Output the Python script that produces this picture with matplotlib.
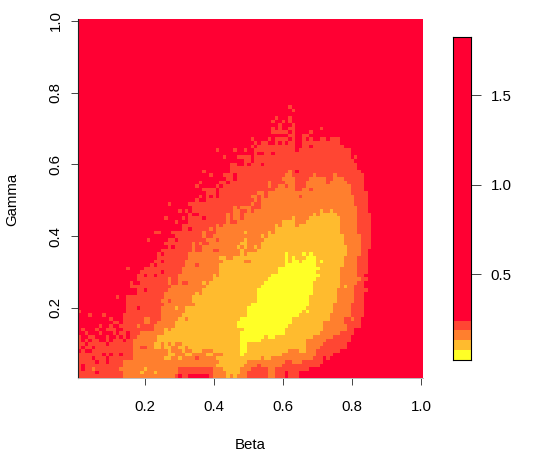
#!/usr/bin/env python3
# Beta / Gamma level map with a stepped colour key
import numpy as np
import matplotlib
matplotlib.use("Agg")
import matplotlib.pyplot as plt
from matplotlib.colors import ListedColormap, BoundaryNorm

plt.rcParams['font.family'] = ['Liberation Sans', 'DejaVu Sans']

W, H = 544, 465

# colour key
breaks = [0.025, 0.077, 0.133, 0.189, 0.239, 1.824]
colors = ['#FFFF26', '#FFBB2E', '#FF7F2E', '#FF4633', '#FF0033']
key_ticks = [0.5, 1.0, 1.5]
level_values = [0.05, 0.105, 0.16, 0.215, 1.0]

xticks = [0.2, 0.4, 0.6, 0.8, 1.0]
yticks = [0.2, 0.4, 0.6, 0.8, 1.0]

# band index per grid row, as "column:band" changes (row starts in band 4),
# rows above index 75 are all band 4
rows_top_down = {
75: "61:3 62:4",
74: "62:3 63:4",
73: "",
72: "57:3 58:4 61:3 62:4",
71: "56:3 57:4 59:3 60:4 61:3 62:4",
70: "58:3 59:4 62:3 63:4",
69: "56:3 57:4 58:3 59:4 61:3 63:4 70:3 71:4",
68: "56:3 61:4 62:3 63:4 67:3 68:4",
67: "61:3 63:4 65:3 67:4",
66: "50:3 51:4 55:3 56:4 57:3 61:4 62:3 63:4 65:3 66:4 67:3 68:4 70:3 72:4 73:3 76:4",
65: "51:3 52:4 53:3 55:4 57:3 58:4 59:3 60:4 61:3 63:4 65:3 76:4",
64: "50:3 51:4 52:3 63:4 65:3 67:4 68:3 77:4",
63: "40:3 41:4 45:3 46:4 48:3 49:4 51:3 63:4 64:3 79:4",
62: "51:3 52:4 54:3 56:4 57:3 79:4",
61: "42:3 43:4 46:3 50:4 51:3 79:4 80:3 81:4",
60: "48:3 50:4 51:3 80:4",
59: "44:3 46:4 48:3 49:4 50:3 53:4 54:3 81:4",
58: "44:3 81:4",
57: "36:3 37:4 44:3 61:2 62:3 63:4 64:3 82:4",
56: "38:3 39:4 42:3 45:4 46:3 60:2 62:3 68:2 69:3 74:2 75:3 83:4",
55: "43:3 45:4 46:3 59:2 63:3 67:2 72:3 74:2 77:3 83:4",
54: "35:3 36:4 41:3 43:4 44:3 55:2 56:3 60:2 63:3 66:2 72:3 73:2 78:3 83:4",
53: "34:3 35:4 40:3 41:4 42:3 55:2 56:3 58:2 60:3 61:2 63:3 66:2 79:3 83:4",
52: "36:3 40:4 41:3 57:2 63:3 65:2 67:3 68:2 79:3 83:4",
51: "37:3 40:4 41:3 52:2 54:3 55:2 79:3 84:4",
50: "35:3 36:4 37:3 38:4 39:3 40:4 41:3 50:2 52:3 53:2 54:3 55:2 64:3 65:2 80:3 84:4",
49: "34:3 35:4 37:3 51:2 52:3 53:2 80:3 84:4",
48: "26:3 27:4 32:3 50:2 51:3 53:2 80:3 84:4",
47: "33:3 45:2 46:3 47:2 50:3 53:2 81:3 84:4",
46: "29:3 30:4 31:3 32:4 33:3 45:2 47:3 49:2 50:3 51:2 70:1 71:2 73:1 74:2 81:3 84:4",
45: "32:3 33:4 35:3 43:2 44:3 45:2 47:3 48:2 68:1 69:2 70:1 75:2 81:3 85:4",
44: "25:3 26:4 30:3 31:4 32:3 36:4 37:3 43:2 44:3 45:2 47:3 48:2 62:1 63:2 67:1 76:2 81:3 85:4",
43: "28:3 29:4 32:3 43:2 44:3 46:2 59:1 63:2 66:1 76:2 81:3 85:4",
42: "30:3 40:2 41:3 42:2 57:1 58:2 59:1 63:2 64:1 76:2 81:3 85:4",
41: "30:3 32:4 33:3 38:2 39:3 40:2 57:1 76:2 81:3 85:4",
40: "22:3 24:4 27:3 36:2 37:3 40:2 48:1 49:2 55:1 56:2 57:1 76:2 81:3 85:4",
39: "28:3 36:2 37:3 39:2 53:1 54:2 55:1 77:2 82:3 85:4",
38: "20:3 21:4 26:3 28:4 29:3 37:2 40:3 41:2 48:1 49:2 54:1 77:2 82:3 85:4",
37: "25:3 33:2 34:3 35:2 36:3 38:2 47:1 49:2 53:1 77:2 82:3 85:4",
36: "26:3 27:4 28:3 33:2 34:3 36:2 46:1 47:2 48:1 49:2 51:1 52:2 53:1 78:2 82:3 85:4",
35: "24:3 33:2 34:3 36:2 39:3 41:2 47:1 48:2 52:1 78:2 82:3 84:4",
34: "23:3 24:4 25:3 32:2 47:1 48:2 49:1 60:0 61:1 65:0 66:1 67:0 68:1 78:2 82:3 84:4",
33: "23:3 32:2 41:1 43:2 45:1 60:0 61:1 62:0 63:1 66:0 69:1 77:2 81:3 84:4",
32: "22:3 24:4 25:3 31:2 42:1 48:2 50:1 60:0 61:1 62:0 64:1 65:0 69:1 70:0 71:1 77:2 81:3 84:4",
31: "21:3 22:4 23:3 31:2 34:3 35:2 41:1 60:0 69:1 77:2 81:3 84:4",
30: "14:3 15:4 19:3 30:2 41:1 58:0 70:1 76:2 81:3 84:4",
29: "18:3 24:4 25:3 30:2 41:1 58:0 69:1 76:2 81:3 84:4",
28: "17:3 19:4 20:3 22:4 23:3 29:2 39:1 40:2 41:1 56:0 70:1 76:2 81:3 83:4",
27: "17:3 26:2 27:3 29:2 39:1 55:0 69:1 76:2 82:3 84:4",
26: "15:3 16:4 18:3 26:2 27:3 29:2 30:3 32:2 36:1 37:2 38:1 54:0 68:1 76:2 81:3 83:4",
25: "15:3 27:2 37:1 53:0 68:1 76:2 77:1 78:2 80:3 83:4",
24: "17:3 19:4 20:3 26:2 36:1 52:0 68:1 75:2 80:3 84:4",
23: "17:3 25:2 34:1 35:2 36:1 52:0 68:1 75:2 80:3 83:4",
22: "11:3 12:4 14:3 25:2 33:1 52:0 67:1 75:2 80:3 83:4",
21: "14:3 24:2 26:3 27:2 33:1 52:0 67:1 75:2 80:3 83:4",
20: "14:3 25:2 34:1 50:0 67:1 74:2 79:3 83:4",
19: "14:3 17:4 18:3 24:2 28:1 29:2 31:1 49:0 66:1 74:2 79:3 83:4",
18: "0:3 1:4 14:3 24:2 31:1 49:0 65:1 66:0 67:1 74:2 79:3 83:4",
17: "3:3 4:4 7:3 8:4 13:3 24:2 30:1 49:0 64:1 73:2 79:3 83:4",
16: "9:3 10:4 13:3 19:2 21:3 24:2 29:1 31:2 32:1 47:0 62:1 73:2 77:3 79:2 80:3 82:4",
15: "10:3 12:4 13:3 19:2 21:3 23:2 28:1 46:0 62:1 71:2 77:3 82:4",
14: "6:3 7:4 9:3 10:4 12:3 17:2 18:3 22:2 28:1 46:0 61:1 71:2 78:3 82:4",
13: "1:3 2:4 5:3 6:4 8:3 11:4 13:3 22:2 25:1 26:2 27:1 48:0 60:1 71:2 78:3 80:4",
12: "2:3 3:4 6:3 7:4 10:3 11:4 12:3 14:4 15:3 18:2 25:1 47:0 60:1 70:2 76:3 80:4",
11: "0:3 1:4 3:3 5:4 8:3 9:4 11:3 12:4 13:3 14:4 15:3 17:2 23:1 47:0 54:1 55:0 57:1 68:2 74:3 79:4",
10: "0:3 1:4 2:3 3:4 4:3 6:4 8:3 9:4 10:3 13:4 14:3 16:2 23:1 47:0 53:1 66:2 72:3 79:4",
9: "0:3 2:4 3:3 8:4 9:3 16:2 22:1 24:2 25:1 26:2 27:1 28:2 30:1 47:0 49:1 66:2 71:3 78:4",
8: "0:3 1:4 2:3 4:4 5:3 16:2 18:3 20:2 22:1 24:2 25:1 27:2 29:1 31:2 32:1 47:0 49:1 66:2 70:3 78:4",
7: "1:3 2:4 4:3 16:2 26:1 27:2 30:1 31:2 33:1 36:2 39:1 47:0 49:1 61:2 64:1 66:2 69:3 76:4",
6: "0:3 7:4 8:3 9:4 10:3 12:4 13:3 16:2 26:1 28:2 31:1 33:2 37:1 39:2 42:1 47:0 48:1 59:2 69:3 74:4",
5: "0:3 4:4 5:3 8:4 9:3 16:2 25:1 27:2 29:1 30:2 34:3 35:2 40:1 53:2 54:1 56:2 68:3 71:4 72:3 73:4",
4: "0:3 5:4 6:3 8:4 9:3 13:2 41:1 49:2 60:3 62:2 65:3 71:4",
3: "0:3 1:4 2:3 13:2 40:1 48:2 52:3 53:2 59:3 70:4",
2: "0:3 1:4 2:3 4:2 5:3 12:2 19:1 20:2 29:3 39:2 42:1 47:2 50:3 55:2 57:3 67:4",
1: "0:3 5:4 6:3 13:2 18:1 19:2 22:1 23:2 29:3 39:2 43:1 47:2 49:3 55:2 57:3 60:4 61:3 64:4",
0: "0:3 13:2 28:3 29:4 30:3 32:4 38:3 39:2 43:1 44:2 45:1 46:2 49:3 55:2 57:3 60:4 61:3 64:4",
}


def expand_rows(rows, n=100):
    grid = np.full((n, n), 4)
    for r, txt in rows.items():
        for tok in txt.split():
            c, lev = tok.split(":")
            grid[r, int(c):] = int(lev)
    return grid


grid = expand_rows(rows_top_down)
z = np.array(level_values)[grid]
edges = np.arange(101) / 100 + 0.005

cmap = ListedColormap(colors)
norm = BoundaryNorm(breaks, cmap.N)

fig = plt.figure(figsize=(W / 100, H / 100), dpi=100)
fs = 10.8

ax = fig.add_axes([78 / W, (H - 378) / H, 345 / W, 359 / H])
ax.pcolormesh(edges, edges, z, cmap=cmap, norm=norm, linewidth=0, rasterized=True)
ax.set_xlim(edges[0], edges[-1])
ax.set_ylim(edges[0], edges[-1])
for s in ['top', 'right']:
    ax.spines[s].set_visible(False)
ax.spines['left'].set_linewidth(0.8)
ax.spines['left'].set_color('#222222')
ax.spines['bottom'].set_linewidth(0.7)
ax.spines['bottom'].set_color('#bbbbbb')
ax.set_xticks(xticks, ["%.1f" % v for v in xticks])
ax.set_yticks(yticks, ["%.1f" % v for v in yticks])
ax.tick_params(axis='x', length=5, width=0.7, color='#444444', labelsize=fs, pad=11)
ax.tick_params(axis='y', length=5, width=0.7, color='#444444', labelsize=fs, pad=6, labelrotation=90)
for t in ax.get_yticklabels():
    t.set_va('center')
fig.text(250 / W, 1 - 445 / H, "Beta", fontsize=fs, ha='center', va='center')
fig.text(12 / W, 1 - 199 / H, "Gamma", fontsize=fs, ha='center', va='center', rotation=90)

# colour key
cax = fig.add_axes([453 / W, (H - 359.5) / H, 18 / W, 322.5 / H])
cax.pcolormesh([0, 1], breaks, np.array(level_values)[:, None], cmap=cmap, norm=norm, linewidth=0)
cax.set_xlim(0, 1)
cax.set_ylim(breaks[0], breaks[-1])
cax.set_xticks([])
cax.yaxis.tick_right()
cax.set_yticks(key_ticks, ["%.1f" % v for v in key_ticks])
cax.tick_params(axis='y', length=7.2, width=0.7, color='#444444', labelsize=fs, pad=7)
for s in cax.spines.values():
    s.set_linewidth(0.8)

fig.savefig("out.png", dpi=100)
